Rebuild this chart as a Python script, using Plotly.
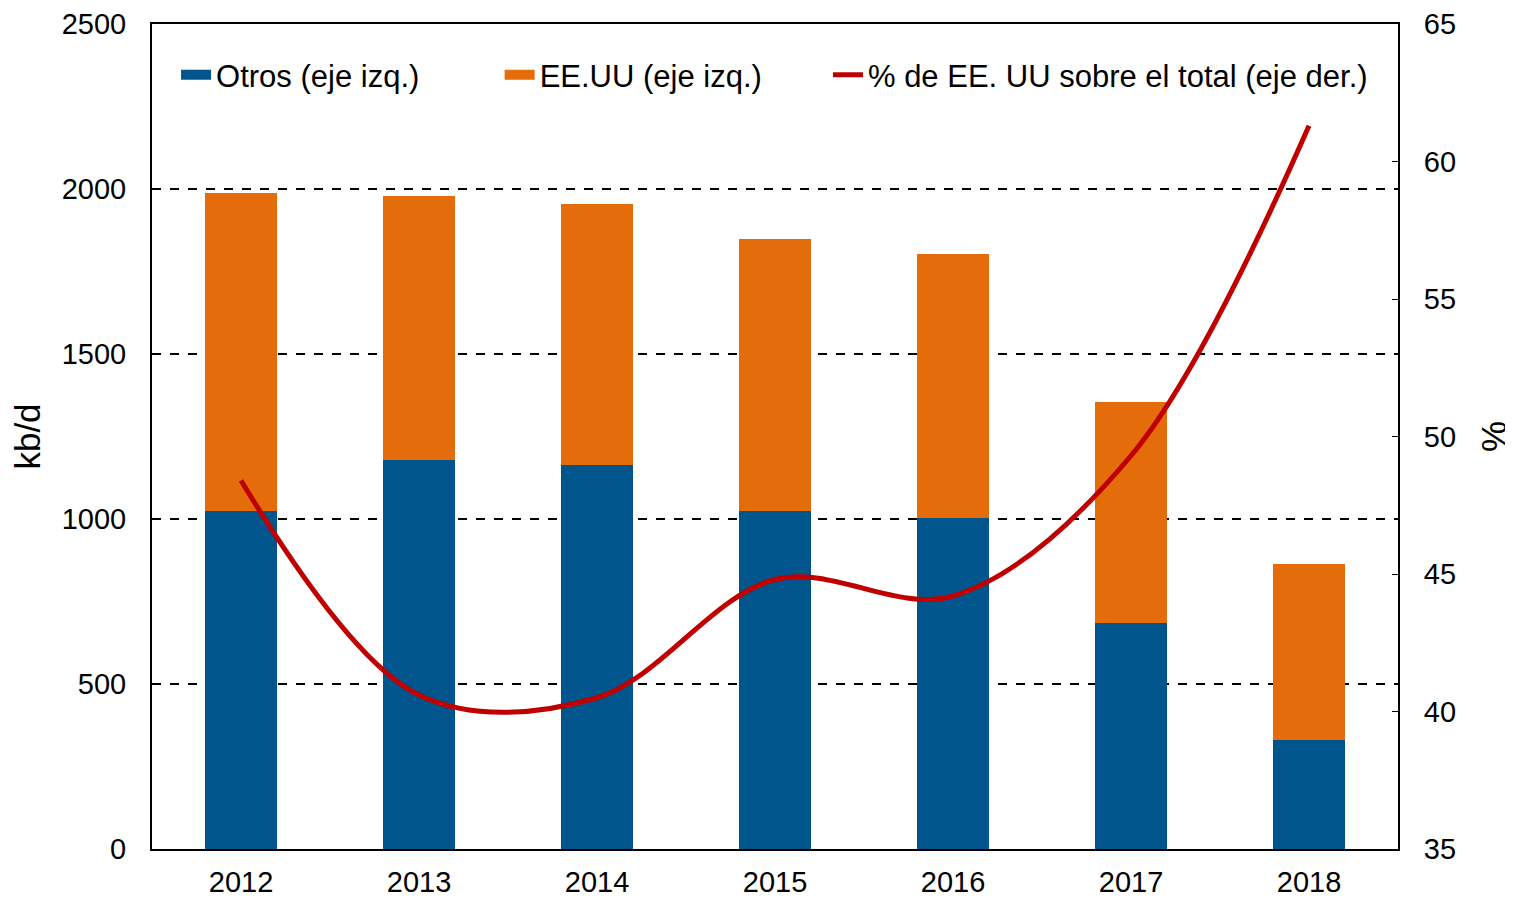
import plotly.graph_objects as go

years = ["2012", "2013", "2014", "2015", "2016", "2017", "2018"]
otros = [1024, 1179, 1164, 1024, 1003, 685, 330]
eeuu = [964, 800, 791, 824, 800, 670, 534]
pct_eeuu = [48.4, 40.6, 40.5, 44.8, 44.2, 49.3, 61.3]

blue = "#00558C"
orange = "#E46C0A"
red = "#C00000"
font = "Liberation Sans, Arial, sans-serif"

fig = go.Figure()
fig.add_trace(go.Bar(x=years, y=otros, name="Otros (eje izq.)", marker_color=blue,
                     marker_line_width=0, showlegend=False))
fig.add_trace(go.Bar(x=years, y=eeuu, name="EE.UU (eje izq.)", marker_color=orange,
                     marker_line_width=0, showlegend=False))
# legend-only entries so the bar keys show as wide rectangles, as in the original
fig.add_trace(go.Scatter(x=[None], y=[None], mode="lines", name="Otros (eje izq.)",
                         line=dict(color=blue, width=17), legend="legend"))
fig.add_trace(go.Scatter(x=[None], y=[None], mode="lines", name="EE.UU (eje izq.)",
                         line=dict(color=orange, width=17), legend="legend2"))
fig.add_trace(go.Scatter(x=years, y=pct_eeuu, name="% de EE. UU sobre el total (eje der.)",
                         mode="lines", line=dict(color=red, width=5, shape="spline", smoothing=1.0),
                         yaxis="y2", legend="legend3"))

leg = dict(y=0.938, xanchor="left", yanchor="middle", font=dict(size=31),
           bgcolor="rgba(0,0,0,0)")

# page body has an 8px margin, so size the figure to fit the window
fig.update_layout(
    width=1505, height=890,
    barmode="stack", bargap=0.6,
    plot_bgcolor="white", paper_bgcolor="white",
    margin=dict(l=144, r=115, t=16, b=49, autoexpand=False),
    font=dict(family=font, size=29, color="black"),
    showlegend=True,
    legend=dict(x=0.0193, **leg),
    legend2=dict(x=0.279, **leg),
    legend3=dict(x=0.5425, **leg),
    xaxis=dict(showline=True, linecolor="black", linewidth=2, mirror=True,
               ticks="", tickfont=dict(size=29), ticklabelstandoff=6, automargin=False),
    yaxis=dict(range=[0, 2500], dtick=500, showline=True, linecolor="black", linewidth=2,
               ticks="inside", ticklen=6, tickcolor="black",
               showgrid=True, gridcolor="black", griddash="dash", gridwidth=1.5,
               zeroline=False, title=dict(text="kb/d", standoff=22),
               tickfont=dict(size=29), ticklabelstandoff=18, automargin=False),
    yaxis2=dict(range=[35, 65], dtick=5, overlaying="y", side="right",
                showline=True, linecolor="black", linewidth=2,
                ticks="inside", ticklen=6, tickcolor="black", showgrid=False,
                zeroline=False, title=dict(text="%", standoff=36),
                tickfont=dict(size=29), ticklabelstandoff=18, automargin=False),
)

fig.write_html("out.html")
